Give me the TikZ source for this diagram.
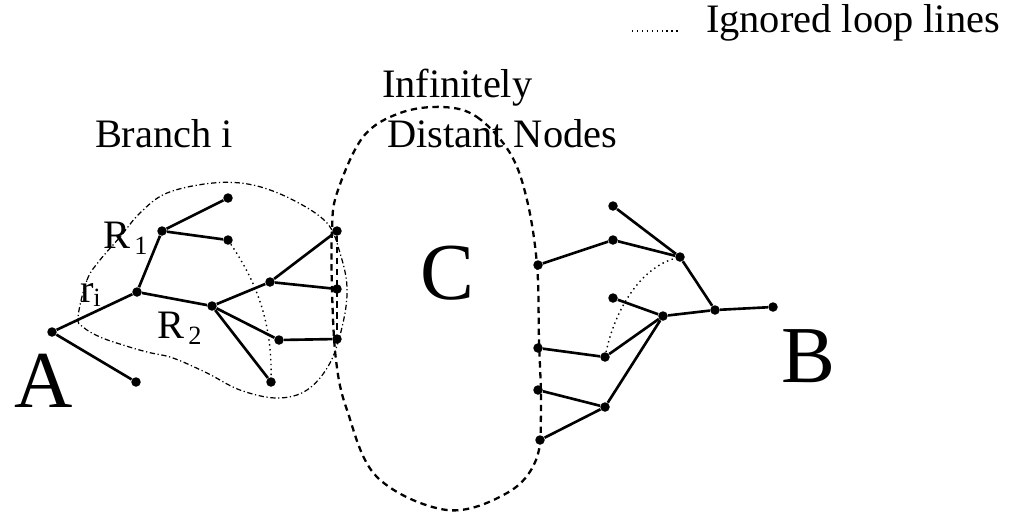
\documentclass[tikz,border=0pt]{standalone}
\usepackage{fontspec}
\setmainfont{Liberation Serif}
\begin{document}
\begin{tikzpicture}[x=0.02cm,y=-0.02cm,
  dot/.style={circle,fill=black,inner sep=0pt,minimum size=1.9mm},
  edge/.style={line width=1.5pt},
  loopline/.style={line width=0.8pt,dash pattern=on 0.8pt off 2pt},
  ovalline/.style={line width=1.3pt,dash pattern=on 3.6pt off 2.6pt},
  branchline/.style={line width=0.7pt,dash pattern=on 3pt off 1.5pt on 0.7pt off 1.5pt},
  lbl/.style={inner sep=0pt,outer sep=0pt,anchor=base west,font=\fontsize{23}{26}\selectfont},
  big/.style={inner sep=0pt,outer sep=0pt,anchor=base west,font=\fontsize{46}{50}\selectfont}]
\useasboundingbox (0,0) rectangle (1013,512);

% Infinitely distant nodes (C)
\draw[ovalline] plot[smooth cycle,tension=0.6] coordinates {
 (443,107) (477,117) (510,153) (527,200) (537,265) (539,340) (541,410)
 (536,460) (507,493) (447,510) (377,477) (347,410) (336,360) (332,290)
 (332,230) (337,193) (363,137) (400,113)};

% Branch i outline
\draw[branchline] plot[smooth cycle,tension=0.6] coordinates {
 (78,317) (87,280) (100,260) (120,237) (140,213) (167,193) (213,183)
 (253,185) (293,200) (327,223) (340,253) (347,287) (343,323) (330,363)
 (307,390) (277,398) (240,390) (207,373) (173,358) (147,352) (123,345)
 (100,337) (83,327)};

% left tree nodes
\node[dot] (a)   at (52,332) {};
\node[dot] (a2)  at (136,382) {};
\node[dot] (n1)  at (137,292) {};
\node[dot] (n2)  at (162,231) {};
\node[dot] (n3)  at (228,198) {};
\node[dot] (n4)  at (228,240) {};
\node[dot] (n5)  at (212,306) {};
\node[dot] (n6)  at (270,282) {};
\node[dot] (n7)  at (337,231) {};
\node[dot] (n8)  at (337,289) {};
\node[dot] (n9)  at (279,340) {};
\node[dot] (n10) at (337,339) {};
\node[dot] (n11) at (271,382) {};

% right tree nodes
\node[dot] (m1)  at (538,265) {};
\node[dot] (m2)  at (613,240) {};
\node[dot] (m3)  at (613,206) {};
\node[dot] (m4)  at (680,257) {};
\node[dot] (m5)  at (715,310) {};
\node[dot] (b)   at (773,307) {};
\node[dot] (m6)  at (613,298) {};
\node[dot] (m7)  at (663,316) {};
\node[dot] (m8)  at (538,348) {};
\node[dot] (m9)  at (605,357) {};
\node[dot] (m10) at (538,390) {};
\node[dot] (m11) at (605,407) {};
\node[dot] (m12) at (540,440) {};

% left tree edges
\draw[edge] (a) -- (a2);
\draw[edge] (a) -- (n1);
\draw[edge] (n1) -- (n2);
\draw[edge] (n2) -- (n3);
\draw[edge] (n2) -- (n4);
\draw[edge] (n1) -- (n5);
\draw[edge] (n5) -- (n6);
\draw[edge] (n6) -- (n7);
\draw[edge] (n6) -- (n8);
\draw[edge] (n5) -- (n9);
\draw[edge] (n9) -- (n10);
\draw[edge] (n5) -- (n11);
\draw[ovalline] (n7) -- (n10);
\draw[loopline] (n4) .. controls (255,280) and (272,320) .. (n11);

% right tree edges
\draw[edge] (m1) -- (m2);
\draw[edge] (m2) -- (m4);
\draw[edge] (m3) -- (m4);
\draw[edge] (m4) -- (m5);
\draw[edge] (m5) -- (b);
\draw[edge] (m5) -- (m7);
\draw[edge] (m6) -- (m7);
\draw[edge] (m7) -- (m9);
\draw[edge] (m9) -- (m8);
\draw[edge] (m7) -- (m11);
\draw[edge] (m11) -- (m10);
\draw[edge] (m11) -- (m12);
\draw[loopline] (m9) .. controls (615,310) and (640,268) .. (m4);

% labels
\node[big] (la) at (14,407) {A};
\node[big] (lb) at (781,382) {B};
\node[big] (lc) at (420,299) {C};
\node[lbl] (lbranch) at (95,147) {Branch i};
\node[lbl] (linf) at (382,97) {Infinitely};
\node[lbl] (ldist) at (387,147) {Distant Nodes};
\node[lbl] (lr1) at (103,248) {R\raisebox{-0.35ex}{\fontsize{15}{16}\selectfont\,1}};
\node[lbl] (lr2) at (157,338) {R\raisebox{-0.35ex}{\fontsize{15}{16}\selectfont\,2}};
\node[lbl] (lri) at (80,302) {r\raisebox{-0.25ex}{\fontsize{15}{16}\selectfont i}};

% legend
\coordinate (lg1) at (632,31);
\coordinate (lg2) at (680,31);
\draw[loopline] (lg1) -- (lg2);
\node[lbl] (lleg) at (706,32) {Ignored loop lines};
\end{tikzpicture}
\end{document}
